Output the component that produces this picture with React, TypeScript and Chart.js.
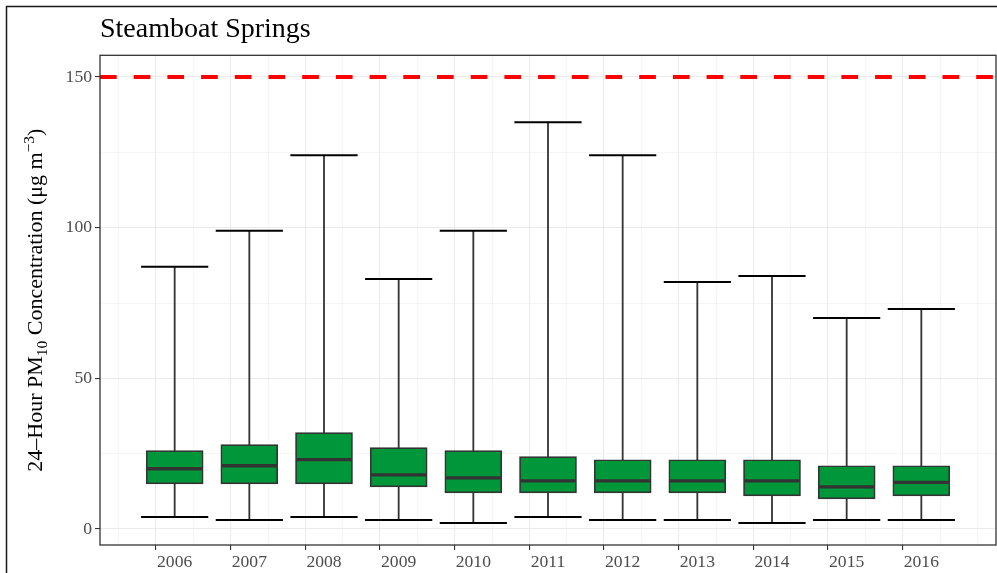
import React, { useEffect, useRef } from 'react';
import { Chart, registerables } from 'chart.js';

Chart.register(...registerables);

const chartTitle = 'Steamboat Springs';
const years = [2006, 2007, 2008, 2009, 2010, 2011, 2012, 2013, 2014, 2015, 2016];
const whiskerMax = [87, 99, 124, 83, 99, 135, 124, 82, 84, 70, 73];
const q3 = [26, 28, 32, 27, 26, 24, 23, 23, 23, 21, 21];
const medians = [20, 21, 23, 18, 17, 16, 16, 16, 16, 14, 15.5];
const q1 = [15, 15, 15, 14, 12, 12, 12, 12, 11, 10, 11];
const whiskerMin = [4, 3, 4, 3, 2, 4, 3, 3, 2, 3, 3];
const yMajorTicks = [0, 50, 100, 150];
const yMinorTicks = [25, 75, 125];
const limitValue = 150;

const FONT = '"Liberation Serif", "Times New Roman", serif';
const BOX_FILL = '#00963a';
const DARK = '#333333';

export default function App() {
  const ref = useRef<HTMLCanvasElement>(null);

  useEffect(() => {
    const canvas = ref.current!;

    const boxPlugin = {
      id: 'boxParts',
      beforeDatasetsDraw(chart: any) {
        const { ctx, scales } = chart;
        const x = scales.x, y = scales.y;
        ctx.save();
        years.forEach((yr, i) => {
          const px = x.getPixelForValue(yr);
          const capHalf = x.getPixelForValue(yr + 0.45) - px;
          ctx.strokeStyle = DARK;
          ctx.lineWidth = 1.8;
          ctx.beginPath();
          ctx.moveTo(px, y.getPixelForValue(whiskerMin[i]));
          ctx.lineTo(px, y.getPixelForValue(whiskerMax[i]));
          ctx.stroke();
          ctx.strokeStyle = '#000000';
          ctx.lineWidth = 2;
          [whiskerMin[i], whiskerMax[i]].forEach((v) => {
            const py = y.getPixelForValue(v);
            ctx.beginPath();
            ctx.moveTo(px - capHalf, py);
            ctx.lineTo(px + capHalf, py);
            ctx.stroke();
          });
        });
        ctx.restore();
      },
      afterDatasetsDraw(chart: any) {
        const { ctx, scales, chartArea } = chart;
        const x = scales.x, y = scales.y;
        ctx.save();
        years.forEach((yr, i) => {
          const px = x.getPixelForValue(yr);
          const half = x.getPixelForValue(yr + 0.382) - px;
          const py = y.getPixelForValue(medians[i]);
          ctx.strokeStyle = DARK;
          ctx.lineWidth = 3.3;
          ctx.beginPath();
          ctx.moveTo(px - half + 1, py);
          ctx.lineTo(px + half - 1, py);
          ctx.stroke();
        });
        const ly = y.getPixelForValue(limitValue);
        ctx.strokeStyle = '#ff0000';
        ctx.lineWidth = 4;
        ctx.setLineDash([16.7, 17]);
        ctx.beginPath();
        ctx.moveTo(chartArea.left, ly);
        ctx.lineTo(chartArea.right, ly);
        ctx.stroke();
        ctx.setLineDash([]);
        ctx.strokeStyle = DARK;
        ctx.lineWidth = 1.3;
        ctx.strokeRect(chartArea.left, chartArea.top, chartArea.right - chartArea.left, chartArea.bottom - chartArea.top);
        ctx.restore();
      },
      afterDraw(chart: any) {
        const { ctx, chartArea } = chart;
        ctx.save();
        ctx.strokeStyle = '#1a1a1a';
        ctx.lineWidth = 1.5;
        ctx.strokeRect(6.5, 6.5, 2000, 2000);
        ctx.fillStyle = '#000000';
        ctx.font = `28px ${FONT}`;
        ctx.textAlign = 'left';
        ctx.textBaseline = 'alphabetic';
        ctx.fillText(chartTitle, chartArea.left, 37);
        const size = 22;
        const small = 15.5;
        const parts: [string, number, number][] = [
          ['24\u2013Hour PM', size, 0],
          ['10', small, 4.5],
          [' Concentration (\u03bcg m', size, 0],
          ['\u22123', small, -8],
          [')', size, 0],
        ];
        let total = 0;
        parts.forEach(([t, s]) => {
          ctx.font = `${s}px ${FONT}`;
          total += ctx.measureText(t).width;
        });
        const cy = (chartArea.top + chartArea.bottom) / 2;
        ctx.translate(42, cy);
        ctx.rotate(-Math.PI / 2);
        let cx = -total / 2;
        parts.forEach(([t, s, dy]) => {
          ctx.font = `${s}px ${FONT}`;
          ctx.fillText(t, cx, dy);
          cx += ctx.measureText(t).width;
        });
        ctx.restore();
      },
    };

    const xTickValues: number[] = [];
    years.forEach((yr) => { xTickValues.push(yr - 0.5, yr); });
    xTickValues.push(years[years.length - 1] + 0.5);
    const yTickValues = [...yMajorTicks, ...yMinorTicks].sort((a, b) => a - b);

    const chart = new Chart(canvas, {
      type: 'bar',
      data: {
        datasets: [
          {
            data: years.map((yr, i) => ({ x: yr, y: [q1[i], q3[i]] })) as any,
            backgroundColor: BOX_FILL,
            borderColor: DARK,
            borderWidth: 1.7,
            borderSkipped: false,
            barThickness: 57,
          },
        ],
      },
      options: {
        responsive: false,
        animation: false,
        layout: { padding: { top: 55.3, right: 1, left: 0, bottom: 0 } },
        plugins: {
          legend: { display: false },
          tooltip: { enabled: false },
          title: { display: false },
        },
        scales: {
          x: {
            type: 'linear',
            min: 2005,
            max: 2017,
            offset: false,
            afterBuildTicks: (s: any) => { s.ticks = xTickValues.map((v) => ({ value: v })); },
            afterFit: (s: any) => { s.height = 28; },
            border: { display: false },
            grid: {
              color: (c: any) => (Number.isInteger(c.tick?.value) ? '#ebebeb' : '#f2f2f2'),
              lineWidth: (c: any) => (Number.isInteger(c.tick?.value) ? 1.1 : 0.8),
              tickColor: (c: any) => (Number.isInteger(c.tick?.value) ? DARK : 'rgba(0,0,0,0)'),
              tickLength: 5,
              tickWidth: 1.1,
            },
            ticks: {
              autoSkip: false,
              maxRotation: 0,
              padding: 2,
              color: '#4d4d4d',
              font: { family: FONT, size: 17.6 },
              callback: (v: any) => (Number.isInteger(v) ? String(v) : ''),
            },
          },
          y: {
            type: 'linear',
            min: -5.3,
            max: 157.2,
            afterBuildTicks: (s: any) => { s.ticks = yTickValues.map((v) => ({ value: v })); },
            afterFit: (s: any) => { s.width = 100; },
            border: { display: false },
            grid: {
              color: (c: any) => (c.tick && c.tick.value % 50 === 0 ? '#ebebeb' : '#f2f2f2'),
              lineWidth: (c: any) => (c.tick && c.tick.value % 50 === 0 ? 1.1 : 0.8),
              tickColor: (c: any) => (c.tick && c.tick.value % 50 === 0 ? DARK : 'rgba(0,0,0,0)'),
              tickLength: 5,
              tickWidth: 1.1,
            },
            ticks: {
              autoSkip: false,
              padding: 3,
              color: '#4d4d4d',
              font: { family: FONT, size: 17.6 },
              callback: (v: any) => (v % 50 === 0 ? String(v) : ''),
            },
          },
        },
      },
      plugins: [boxPlugin],
    });

    return () => chart.destroy();
  }, []);

  return (
    <div style={{ position: 'absolute', left: 0, top: 0, width: 997, height: 573, background: '#ffffff' }}>
      <canvas ref={ref} width={997} height={573} style={{ display: 'block', width: 997, height: 573 }} />
    </div>
  );
}
